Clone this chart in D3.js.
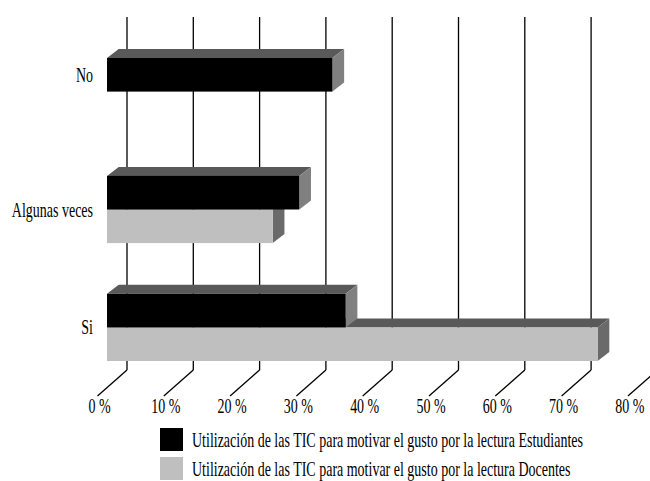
<!DOCTYPE html>
<html>
<head>
<meta charset="utf-8">
<script src="https://cdn.jsdelivr.net/npm/d3@7"></script>
<style>
  html, body { margin: 0; padding: 0; background: #fff; }
  svg { display: block; }
  text { font-family: "Liberation Serif", "Times New Roman", serif; fill: #000; }
</style>
</head>
<body>
<svg id="chart" width="650" height="481"></svg>
<script>
// Categories (top to bottom) and the two series, in percent
const categories = ["No", "Algunas veces", "Si"];
const seriesNames = [
  "Utilización de las TIC para motivar el gusto por la lectura Estudiantes",
  "Utilización de las TIC para motivar el gusto por la lectura Docentes"
];
const estudiantes = [34, 29, 36];
const docentes = [0, 25, 74];
const tickValues = [0, 10, 20, 30, 40, 50, 60, 70, 80];
const tickLabels = ["0 %", "10 %", "20 %", "30 %", "40 %", "50 %", "60 %", "70 %", "80 %"];

const svg = d3.select("#chart");

// Oblique 3D frame: back wall, bar front plane, and depth offsets
const wallTop = 17, wallBottom = 370;
const floorDepth = { dx: -29.5, dy: 26 };   // back wall -> front edge of floor
const barDepth = { dx: 11.7, dy: -9 };       // bar front face -> bar back face

const xWall = d3.scaleLinear().domain([0, 80]).range([127, 127 + 8 * 66.3]);
const xBar = d3.scaleLinear().domain([0, 80]).range([107, 107 + 8 * 66.3]);

const yCat = d3.scaleBand().domain(categories).range([58, 361]).paddingInner(0.43).paddingOuter(0);
const ySer = d3.scaleBand().domain([0, 1]).range([0, yCat.bandwidth()]);

const colors = [
  { front: "#000000", top: "#595959", side: "#808080" },
  { front: "#bfbfbf", top: "#595959", side: "#6a6a6a" }
];
const values = [estudiantes, docentes];

// Condensed serif text helper
const SX = 0.70;
const FS = 20;
function label(g, x, y, str, anchor) {
  return g.append("text")
    .attr("transform", `translate(${x},${y}) scale(${SX},1)`)
    .attr("text-anchor", anchor)
    .attr("font-size", FS)
    .text(str);
}

// Back-wall gridlines
svg.append("g").selectAll("line")
  .data(tickValues)
  .join("line")
  .attr("x1", d => xWall(d)).attr("x2", d => xWall(d))
  .attr("y1", wallTop).attr("y2", wallBottom)
  .attr("stroke", "#000").attr("stroke-width", 1.3);

// Floor lines running from the wall to the front edge
svg.append("g").selectAll("line")
  .data(tickValues)
  .join("line")
  .attr("x1", d => xWall(d)).attr("y1", wallBottom)
  .attr("x2", d => xWall(d) + floorDepth.dx).attr("y2", wallBottom + floorDepth.dy)
  .attr("stroke", "#000").attr("stroke-width", 1.3);

// Tick labels at the front edge of the floor
const tickG = svg.append("g");
tickValues.forEach((v, i) => {
  label(tickG, xWall(v) + floorDepth.dx + 2, 413, tickLabels[i], "middle");
});

// 3D bars: docentes drawn first so the upper series overlaps it
const barsG = svg.append("g");
[1, 0].forEach(s => {
  categories.forEach((c, i) => {
    const v = values[s][i];
    if (v <= 0) return;
    const x0 = xBar(0), x1 = xBar(v);
    const y0 = yCat(c) + ySer(s), y1 = y0 + ySer.bandwidth();
    const { dx, dy } = barDepth;
    const g = barsG.append("g");
    g.append("polygon")
      .attr("points", [[x0, y0], [x1, y0], [x1 + dx, y0 + dy], [x0 + dx, y0 + dy]].join(" "))
      .attr("fill", colors[s].top);
    g.append("polygon")
      .attr("points", [[x1, y0], [x1 + dx, y0 + dy], [x1 + dx, y1 + dy], [x1, y1]].join(" "))
      .attr("fill", colors[s].side);
    g.append("rect")
      .attr("x", x0).attr("y", y0)
      .attr("width", x1 - x0).attr("height", y1 - y0)
      .attr("fill", colors[s].front);
  });
});

// Category labels, centred on the bars shown for each category
const catG = svg.append("g");
categories.forEach((c, i) => {
  const shown = [0, 1].filter(s => values[s][i] > 0);
  const top = yCat(c) + ySer(shown[0]);
  const bottom = yCat(c) + ySer(shown[shown.length - 1]) + ySer.bandwidth();
  label(catG, 93, (top + bottom) / 2 + 7, c, "end");
});

// Legend
const legendG = svg.append("g");
seriesNames.forEach((name, s) => {
  const y = 428 + s * 29;
  legendG.append("rect")
    .attr("x", 160).attr("y", y).attr("width", 23).attr("height", 23)
    .attr("fill", colors[s].front);
  label(legendG, 192, y + 19, name, "start");
});
</script>
</body>
</html>
